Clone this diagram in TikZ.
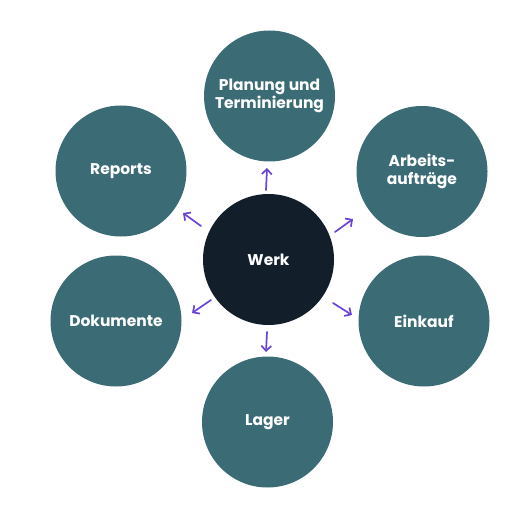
\documentclass[tikz,border=0pt]{standalone}
\usepackage{fontspec}
\setmainfont{Poppins}
\usetikzlibrary{arrows.meta}
\definecolor{teal1}{HTML}{3B6C76}
\definecolor{dark1}{HTML}{121F2B}
\definecolor{purp}{HTML}{6A44D6}
\tikzset{
  outer/.style={circle, fill=teal1, minimum size=131pt, inner sep=0pt, text=white, font=\fontsize{15.5}{18}\selectfont\bfseries, align=center},
  hub/.style={circle, fill=dark1, minimum size=131pt, inner sep=0pt, text=white, font=\fontsize{15.5}{18}\selectfont\bfseries},
  arr/.style={draw=purp, line width=1.7pt, -{Straight Barb[length=5pt,width=10pt,line width=1.7pt]}, line cap=round}
}
\begin{document}
\begin{tikzpicture}[x=1pt,y=-1pt]
\useasboundingbox (0,0) rectangle (521,521);
\node[hub] (werk) at (268.5,259.5) {Werk};
\node[outer] (plan) at (269.5,96) {Planung und\\Terminierung};
\node[outer] (arb) at (422,171.5) {Arbeits-\\aufträge};
\node[outer] (eink) at (424,321) {Einkauf};
\node[outer] (lager) at (267.5,422) {Lager};
\node[outer] (doku) at (116,321) {Dokumente};
\node[outer] (rep) at (121,171) {Reports};
\coordinate (a1s) at (266,190); \coordinate (a1e) at (267,168);
\coordinate (a2s) at (335,232); \coordinate (a2e) at (353,219);
\coordinate (a3s) at (201,226); \coordinate (a3e) at (183,213);
\coordinate (a4s) at (211,300); \coordinate (a4e) at (192,313);
\coordinate (a5s) at (333,303); \coordinate (a5e) at (352,315);
\coordinate (a6s) at (267,332); \coordinate (a6e) at (266,352);
\draw[arr] (a1s) -- (a1e);
\draw[arr] (a2s) -- (a2e);
\draw[arr] (a3s) -- (a3e);
\draw[arr] (a4s) -- (a4e);
\draw[arr] (a5s) -- (a5e);
\draw[arr] (a6s) -- (a6e);
\end{tikzpicture}
\end{document}
